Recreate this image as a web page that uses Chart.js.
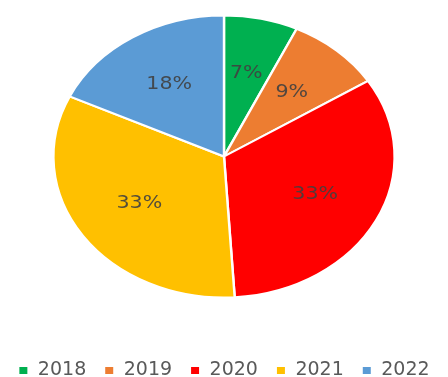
<!DOCTYPE html>
<html>
<head>
<meta charset="utf-8">
<script src="https://cdn.jsdelivr.net/npm/chart.js@4"></script>
<style>
  html, body { margin: 0; padding: 0; background: #fff; }
  #wrap { width: 448px; height: 377px; }
</style>
</head>
<body>
<div id="wrap"><canvas id="pieChart"></canvas></div>
<script>
// Veriler
const years = ['2018', '2019', '2020', '2021', '2022'];
const shares = [7, 9, 33, 33, 18];
const sliceColors = ['#00B050', '#ED7D31', '#FF0000', '#FFC000', '#5B9BD5'];

// Pasta yatayda genis (elips)
const stretchX = 1.21;

const stretchPlugin = {
    id: 'stretch',
    afterLayout(chart) {
        // legend'i kanvasin en altina yasla
        const lg = chart.legend;
        const shift = chart.height - lg.bottom + 13;
        lg.top += shift;
        lg.bottom += shift;
    },
    beforeDatasetsDraw(chart) {
        const arc = chart.getDatasetMeta(0).data[0];
        const ctx = chart.ctx;
        ctx.save();
        ctx.translate(arc.x, arc.y);
        ctx.scale(stretchX, 1);
        ctx.translate(-arc.x, -arc.y);
    },
    afterDatasetsDraw(chart) {
        const ctx = chart.ctx;
        // Yuzde etiketleri
        chart.getDatasetMeta(0).data.forEach((arc, i) => {
            const mid = (arc.startAngle + arc.endAngle) / 2;
            const r = arc.outerRadius * 0.6;
            ctx.fillStyle = 'rgba(64,64,64,0.9)';
            ctx.font = '17px "DejaVu Sans"';
            ctx.textAlign = 'center';
            ctx.textBaseline = 'middle';
            ctx.fillText(shares[i] + '%', arc.x + Math.cos(mid) * r, arc.y + Math.sin(mid) * r);
        });
        ctx.restore();
    }
};

new Chart(document.getElementById('pieChart'), {
    type: 'pie',
    data: {
        labels: years,
        datasets: [{
            data: shares,
            backgroundColor: sliceColors,
            borderColor: '#ffffff',
            borderWidth: 2,
            hoverOffset: 0,
            radius: 141
        }]
    },
    options: {
        responsive: true,
        maintainAspectRatio: false,
        animation: false,
        layout: { padding: { top: 0, bottom: 17 } },
        plugins: {
            tooltip: { enabled: false },
            legend: {
                position: 'bottom',
                labels: {
                    boxWidth: 10,
                    boxHeight: 9,
                    padding: 18,
                    color: '#595959',
                    font: { family: 'DejaVu Sans', size: 19 }
                }
            }
        }
    },
    plugins: [stretchPlugin]
});
</script>
</body>
</html>
